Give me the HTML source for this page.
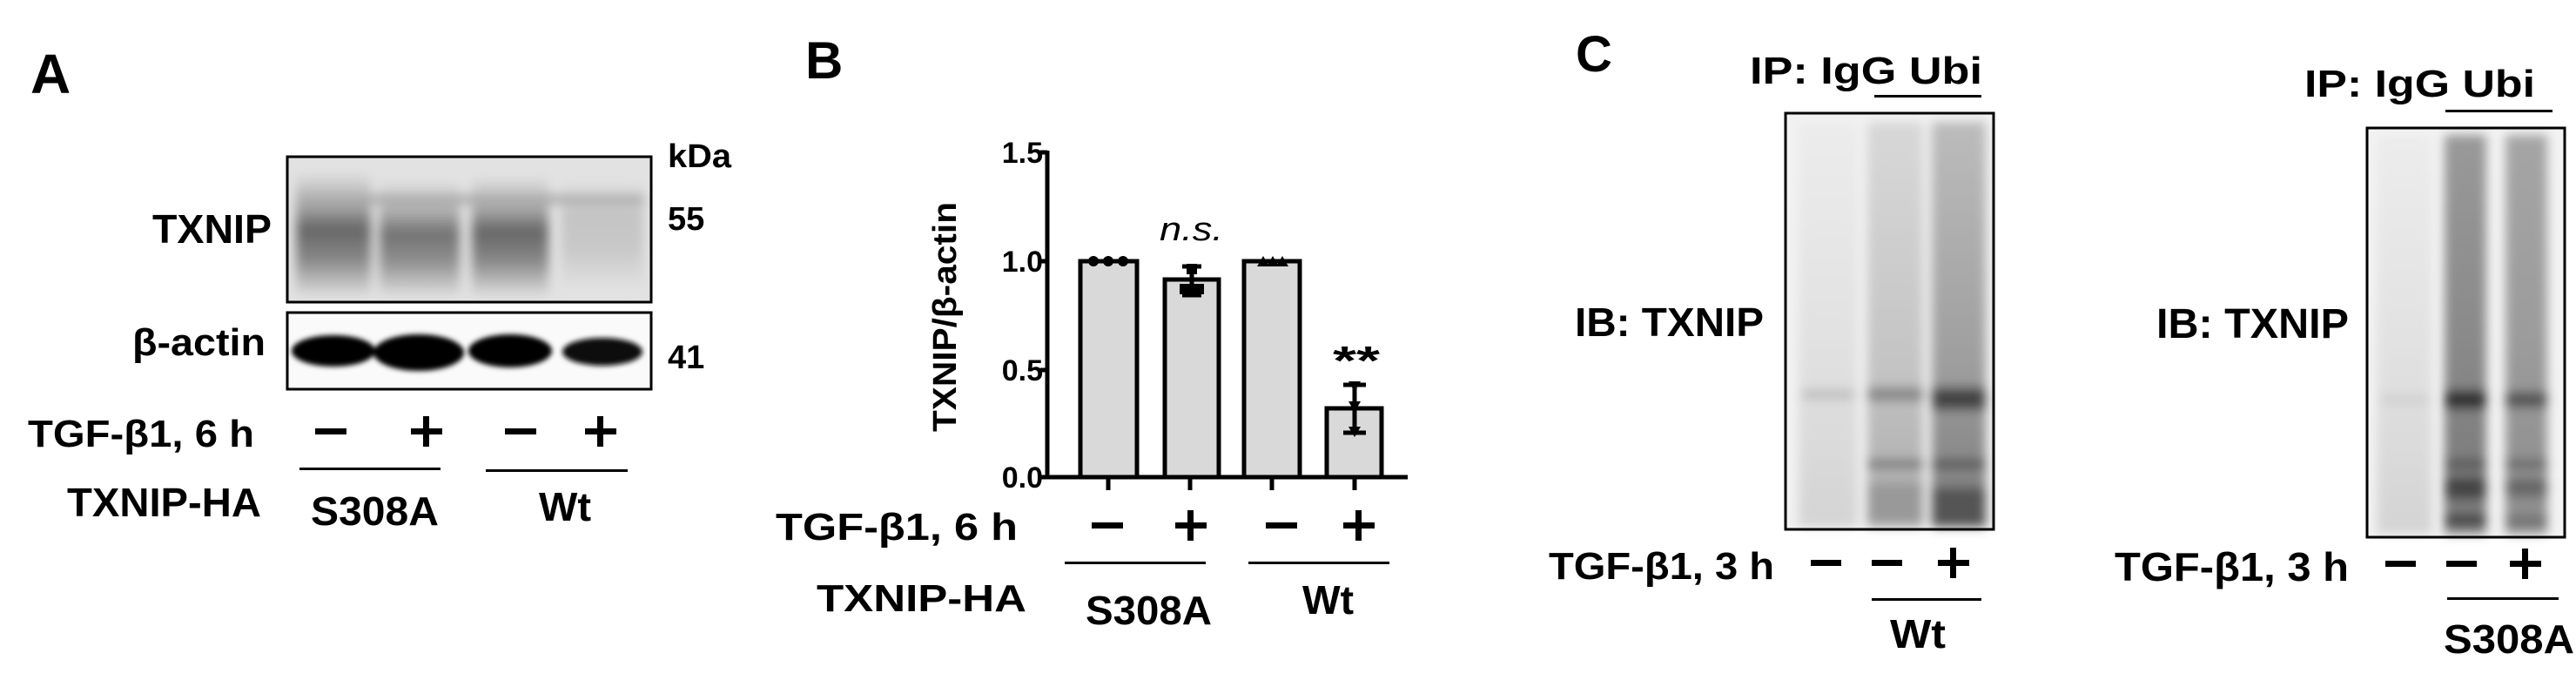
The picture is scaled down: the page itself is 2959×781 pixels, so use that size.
<!DOCTYPE html>
<html><head><meta charset="utf-8"><style>
html,body{margin:0;padding:0;background:#fff;}
svg{display:block;}
text{font-family:"Liberation Sans",Arial,sans-serif;font-weight:bold;fill:#000;}
</style></head><body>
<svg width="2959" height="781" viewBox="0 0 2959 781" xmlns="http://www.w3.org/2000/svg">
<defs>
<filter id="bl" x="-20%" y="-20%" width="140%" height="140%"><feGaussianBlur stdDeviation="6"/></filter>
<filter id="bl2" x="-20%" y="-20%" width="140%" height="140%"><feGaussianBlur stdDeviation="3"/></filter>
<linearGradient id="gA" x1="0" y1="0" x2="0" y2="1">
<stop offset="0" stop-color="#ddd"/><stop offset="0.25" stop-color="#aaa"/><stop offset="0.45" stop-color="#666"/><stop offset="0.7" stop-color="#888"/><stop offset="1" stop-color="#ddd"/></linearGradient>
<linearGradient id="gAf" x1="0" y1="0" x2="0" y2="1">
<stop offset="0" stop-color="#e4e4e4"/><stop offset="0.3" stop-color="#c4c4c4"/><stop offset="0.6" stop-color="#c8c8c8"/><stop offset="1" stop-color="#e6e6e6"/></linearGradient>
<linearGradient id="gC1" x1="0" y1="0" x2="0" y2="1">
<stop offset="0" stop-color="#ececec"/><stop offset="0.6" stop-color="#e0e0e0"/><stop offset="1" stop-color="#d4d4d4"/></linearGradient>
<linearGradient id="gC2" x1="0" y1="0" x2="0" y2="1">
<stop offset="0" stop-color="#d8d8d8"/><stop offset="0.6" stop-color="#c4c4c4"/><stop offset="1" stop-color="#aaa"/></linearGradient>
<linearGradient id="gC3" x1="0" y1="0" x2="0" y2="1">
<stop offset="0" stop-color="#bcbcbc"/><stop offset="0.6" stop-color="#9e9e9e"/><stop offset="1" stop-color="#7a7a7a"/></linearGradient>
<linearGradient id="gD2" x1="0" y1="0" x2="0" y2="1">
<stop offset="0" stop-color="#999"/><stop offset="0.5" stop-color="#8a8a8a"/><stop offset="1" stop-color="#777"/></linearGradient>
<linearGradient id="gD3" x1="0" y1="0" x2="0" y2="1">
<stop offset="0" stop-color="#a5a5a5"/><stop offset="0.5" stop-color="#9c9c9c"/><stop offset="1" stop-color="#8c8c8c"/></linearGradient>
</defs>

<!-- ===== Panel A ===== -->
<text x="35" y="107" font-size="64">A</text>
<text x="767" y="192" font-size="38" textLength="73" lengthAdjust="spacingAndGlyphs">kDa</text>
<text x="767" y="264" font-size="38">55</text>
<text x="767" y="423" font-size="38">41</text>
<text x="175" y="279" font-size="46" textLength="137" lengthAdjust="spacingAndGlyphs">TXNIP</text>
<text x="152" y="408" font-size="44" textLength="153" lengthAdjust="spacingAndGlyphs">β-actin</text>

<rect x="330" y="180" width="418" height="167" fill="#e2e2e2"/>
<g filter="url(#bl)">
<rect x="340" y="200" width="86" height="140" fill="url(#gA)"/>
<rect x="436" y="210" width="92" height="130" fill="url(#gA)" opacity="0.9"/>
<rect x="542" y="205" width="88" height="135" fill="url(#gA)"/>
<rect x="645" y="205" width="94" height="135" fill="url(#gAf)"/>
<rect x="340" y="224" width="400" height="10" fill="#aaa"/>
</g>
<rect x="330" y="180" width="418" height="167" fill="none" stroke="#000" stroke-width="3"/>

<rect x="330" y="359" width="418" height="88" fill="#fafafa"/>
<g filter="url(#bl2)">
<ellipse cx="383" cy="403" rx="48" ry="18" fill="#050505"/>
<ellipse cx="481" cy="405" rx="52" ry="21" fill="#000"/>
<ellipse cx="586" cy="403" rx="48" ry="19" fill="#050505"/>
<ellipse cx="692" cy="404" rx="46" ry="16" fill="#111"/>
</g>
<rect x="330" y="359" width="418" height="88" fill="none" stroke="#000" stroke-width="3"/>

<text x="32" y="513" font-size="44" textLength="260" lengthAdjust="spacingAndGlyphs">TGF-β1, 6 h</text>
<rect x="362" y="492" width="36" height="7"/>
<rect x="472" y="492" width="36" height="7"/><rect x="486" y="478" width="7" height="35"/>
<rect x="580" y="492" width="36" height="7"/>
<rect x="672" y="492" width="36" height="7"/><rect x="686" y="478" width="7" height="35"/>
<rect x="344" y="537" width="162" height="3"/>
<rect x="558" y="539" width="163" height="3"/>
<text x="77" y="593" font-size="46" textLength="223" lengthAdjust="spacingAndGlyphs">TXNIP-HA</text>
<text x="357" y="603" font-size="46" textLength="147" lengthAdjust="spacingAndGlyphs">S308A</text>
<text x="619" y="598" font-size="46" textLength="60" lengthAdjust="spacingAndGlyphs">Wt</text>

<!-- ===== Panel B ===== -->
<text x="925" y="90" font-size="60">B</text>
<text transform="translate(1098,364) rotate(-90)" text-anchor="middle" font-size="38" textLength="264" lengthAdjust="spacingAndGlyphs">TXNIP/β-actin</text>
<g font-size="34" text-anchor="end">
<text x="1198" y="187">1.5</text>
<text x="1198" y="312">1.0</text>
<text x="1198" y="437">0.5</text>
<text x="1198" y="560">0.0</text>
</g>
<g fill="#d9d9d9" stroke="#000" stroke-width="5">
<rect x="1241" y="300" width="65" height="248"/>
<rect x="1338" y="321" width="62" height="227"/>
<rect x="1429" y="300" width="64" height="248"/>
<rect x="1524" y="469" width="63" height="79"/>
</g>
<g stroke="#000" stroke-width="5" fill="none">
<line x1="1203" y1="173" x2="1203" y2="550"/>
<line x1="1201" y1="548" x2="1617" y2="548"/>
<line x1="1195" y1="175" x2="1203" y2="175"/>
<line x1="1195" y1="300" x2="1203" y2="300"/>
<line x1="1195" y1="425" x2="1203" y2="425"/>
<line x1="1195" y1="548" x2="1203" y2="548"/>
<line x1="1273" y1="548" x2="1273" y2="563"/>
<line x1="1367" y1="548" x2="1367" y2="563"/>
<line x1="1461" y1="548" x2="1461" y2="563"/>
<line x1="1556" y1="548" x2="1556" y2="563"/>
<line x1="1369" y1="306" x2="1369" y2="339"/>
<line x1="1358" y1="306" x2="1380" y2="306"/>
<line x1="1358" y1="339" x2="1380" y2="339"/>
<line x1="1556" y1="442" x2="1556" y2="497"/>
<line x1="1543" y1="442" x2="1569" y2="442"/>
<line x1="1543" y1="497" x2="1569" y2="497"/>
</g>
<circle cx="1256" cy="300" r="6"/><circle cx="1273" cy="300" r="6"/><circle cx="1290" cy="300" r="6"/>
<rect x="1363" y="303" width="12" height="12"/><rect x="1355" y="326" width="12" height="12"/><rect x="1371" y="326" width="12" height="12"/>
<path d="M1444 306 l7 -12 l7 12z M1455 306 l7 -12 l7 12z M1466 306 l7 -12 l7 12z"/>
<path d="M1549 438 l14 0 l-7 12z M1549 461 l14 0 l-7 12z M1549 490 l14 0 l-7 12z"/>
<text x="1332" y="276" font-size="38" font-style="italic" textLength="73" lengthAdjust="spacingAndGlyphs" style="font-weight:normal">n.s.</text>
<text x="1531" y="430" font-size="46" textLength="54" lengthAdjust="spacingAndGlyphs">**</text>

<text x="891" y="620" font-size="44" textLength="278" lengthAdjust="spacingAndGlyphs">TGF-β1, 6 h</text>
<rect x="1254" y="600" width="36" height="7"/>
<rect x="1350" y="600" width="36" height="7"/><rect x="1364" y="586" width="7" height="35"/>
<rect x="1454" y="600" width="36" height="7"/>
<rect x="1543" y="600" width="36" height="7"/><rect x="1557" y="586" width="7" height="35"/>
<rect x="1223" y="645" width="162" height="3"/>
<rect x="1434" y="645" width="162" height="3"/>
<text x="938" y="702" font-size="44" textLength="241" lengthAdjust="spacingAndGlyphs">TXNIP-HA</text>
<text x="1247" y="717" font-size="46" textLength="145" lengthAdjust="spacingAndGlyphs">S308A</text>
<text x="1496" y="705" font-size="46" textLength="59" lengthAdjust="spacingAndGlyphs">Wt</text>

<!-- ===== Panel C ===== -->
<text x="1810" y="82" font-size="58">C</text>
<text x="2010" y="96" font-size="44" textLength="267" lengthAdjust="spacingAndGlyphs">IP: IgG  Ubi</text>
<rect x="2153" y="109" width="123" height="3"/>
<text x="1809" y="386" font-size="46" textLength="217" lengthAdjust="spacingAndGlyphs">IB: TXNIP</text>

<rect x="2051" y="130" width="239" height="478" fill="#f2f2f2"/>
<g filter="url(#bl)">
<rect x="2066" y="140" width="68" height="465" fill="url(#gC1)"/>
<rect x="2145" y="140" width="64" height="465" fill="url(#gC2)"/>
<rect x="2219" y="140" width="62" height="465" fill="url(#gC3)"/>
<rect x="2070" y="448" width="60" height="10" fill="#bbb"/>
<rect x="2145" y="445" width="64" height="16" fill="#888"/>
<rect x="2219" y="445" width="62" height="26" fill="#444"/>
<rect x="2145" y="528" width="64" height="10" fill="#777"/>
<rect x="2219" y="528" width="62" height="10" fill="#555"/>
<rect x="2145" y="555" width="64" height="45" fill="#999"/>
<rect x="2219" y="560" width="62" height="45" fill="#555"/>
</g>
<rect x="2051" y="130" width="239" height="478" fill="none" stroke="#000" stroke-width="3"/>

<text x="1779" y="665" font-size="44" textLength="259" lengthAdjust="spacingAndGlyphs">TGF-β1, 3 h</text>
<rect x="2080" y="643" width="35" height="7"/>
<rect x="2150" y="643" width="35" height="7"/>
<rect x="2226" y="643" width="36" height="7"/><rect x="2240" y="629" width="7" height="35"/>
<rect x="2150" y="687" width="126" height="3"/>
<text x="2171" y="744" font-size="46" textLength="64" lengthAdjust="spacingAndGlyphs">Wt</text>

<text x="2647" y="111" font-size="44" textLength="265" lengthAdjust="spacingAndGlyphs">IP: IgG  Ubi</text>
<rect x="2809" y="126" width="123" height="3"/>
<text x="2477" y="388" font-size="48" textLength="221" lengthAdjust="spacingAndGlyphs">IB: TXNIP</text>

<rect x="2719" y="147" width="227" height="470" fill="#f3f3f3"/>
<g filter="url(#bl)">
<rect x="2730" y="155" width="64" height="458" fill="url(#gC1)"/>
<rect x="2808" y="155" width="48" height="458" fill="url(#gD2)"/>
<rect x="2878" y="155" width="48" height="458" fill="url(#gD3)"/>
<rect x="2735" y="455" width="55" height="8" fill="#ccc"/>
<rect x="2808" y="448" width="48" height="22" fill="#333"/>
<rect x="2878" y="450" width="48" height="18" fill="#555"/>
<rect x="2808" y="528" width="48" height="10" fill="#555"/>
<rect x="2878" y="528" width="48" height="10" fill="#666"/>
<rect x="2808" y="548" width="48" height="25" fill="#444"/>
<rect x="2878" y="550" width="48" height="20" fill="#666"/>
<rect x="2808" y="592" width="48" height="10" fill="#333"/>
<rect x="2878" y="594" width="48" height="8" fill="#666"/>
</g>
<rect x="2719" y="147" width="227" height="470" fill="none" stroke="#000" stroke-width="3"/>

<text x="2429" y="667" font-size="46" textLength="269" lengthAdjust="spacingAndGlyphs">TGF-β1, 3 h</text>
<rect x="2740" y="644" width="35" height="7"/>
<rect x="2810" y="644" width="35" height="7"/>
<rect x="2883" y="644" width="36" height="7"/><rect x="2897" y="630" width="7" height="35"/>
<rect x="2811" y="686" width="128" height="3"/>
<text x="2807" y="750" font-size="46" textLength="150" lengthAdjust="spacingAndGlyphs">S308A</text>
</svg>
</body></html>
